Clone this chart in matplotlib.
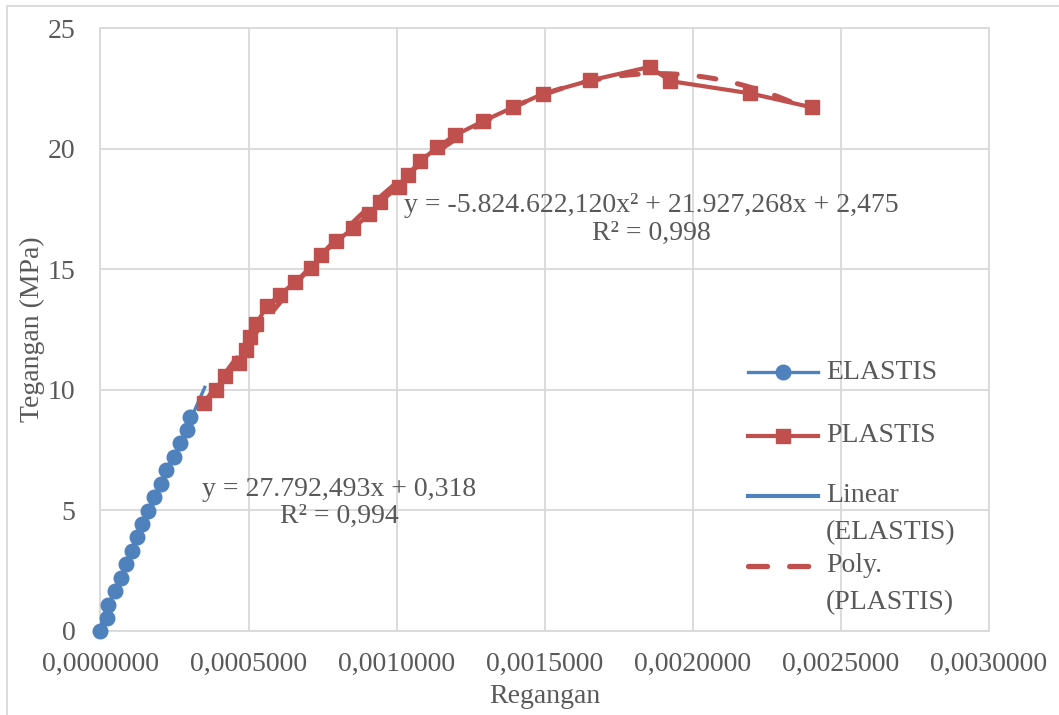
import matplotlib.pyplot as plt
import numpy as np
from matplotlib.lines import Line2D
from matplotlib.patches import Rectangle
from matplotlib.ticker import FuncFormatter, MultipleLocator

plt.rcParams["font.family"] = ["Liberation Serif", "DejaVu Serif"]
plt.rcParams["font.size"] = 20

# data
elastis_x = [0.0, 2.1e-5, 2.6e-5, 4.9e-5, 6.9e-5, 8.5e-5, 1.05e-4, 1.22e-4, 1.41e-4,
             1.61e-4, 1.81e-4, 2.04e-4, 2.22e-4, 2.47e-4, 2.70e-4, 2.93e-4, 3.02e-4]
elastis_y = [0.0, 0.54, 1.09, 1.66, 2.21, 2.77, 3.32, 3.88, 4.44,
             4.99, 5.54, 6.09, 6.67, 7.23, 7.78, 8.33, 8.88]

plastis_x = [3.50e-4, 3.90e-4, 4.21e-4, 4.68e-4, 4.92e-4, 5.05e-4, 5.25e-4, 5.62e-4,
             6.06e-4, 6.57e-4, 7.11e-4, 7.45e-4, 7.96e-4, 8.53e-4, 9.07e-4, 9.44e-4,
             1.008e-3, 1.039e-3, 1.079e-3, 1.137e-3, 1.198e-3, 1.292e-3, 1.393e-3,
             1.495e-3, 1.654e-3, 1.855e-3, 1.924e-3, 2.194e-3, 2.402e-3]
plastis_y = [9.47, 10.01, 10.58, 11.12, 11.67, 12.20, 12.71, 13.48,
             13.93, 14.48, 15.05, 15.59, 16.15, 16.70, 17.27, 17.80,
             18.42, 18.92, 19.47, 20.06, 20.56, 21.14, 21.71,
             22.28, 22.83, 23.39, 22.80, 22.29, 21.71]

# trendline coefficients shown on the chart
lin_a, lin_b = 27792.493, 0.318
poly_a, poly_b, poly_c = -5824622.120, 21927.268, 2.475

biru = "#4F81BD"
merah = "#C0504D"
abu = "#595959"
grid = "#D9D9D9"

fig = plt.figure(figsize=(10.59, 7.15), dpi=100)
ax = fig.add_axes([0.0949, 0.1175, 0.839, 0.8433])

# trendlines
xl = np.linspace(min(elastis_x), max(elastis_x) + 5e-5, 50)
ax.plot(xl, lin_a * xl + lin_b, color=biru, lw=2.4, zorder=4)
xp = np.linspace(min(plastis_x), max(plastis_x), 200)
garis_poly, = ax.plot(xp, poly_a * xp**2 + poly_b * xp + poly_c, color=merah, lw=3.6,
                      dash_capstyle="round", zorder=3)
garis_poly.set_dashes((3.4, 4.4))

ax.plot(elastis_x, elastis_y, color=biru, lw=2.4, marker="o", ms=10.5, zorder=5,
        clip_on=False)
ax.plot(plastis_x, plastis_y, color=merah, lw=3.0, marker="s", ms=10.5, zorder=5,
        clip_on=False)

ax.set_xlim(0, 0.003)
ax.set_ylim(0, 25)
ax.xaxis.set_major_locator(MultipleLocator(0.0005))
ax.yaxis.set_major_locator(MultipleLocator(5))
ax.xaxis.set_major_formatter(FuncFormatter(lambda v, p: f"{v:.7f}".replace(".", ",")))
ax.yaxis.set_major_formatter(FuncFormatter(lambda v, p: f"{v:.0f}"))
ax.tick_params(length=0, colors=abu, labelsize=20)
ax.tick_params(axis="y", pad=18)
ax.tick_params(axis="x", pad=15)
ax.grid(True, color=grid, lw=1.3)
ax.set_axisbelow(True)
for s in ax.spines.values():
    s.set_color(grid)
    s.set_linewidth(1.3)

ax.set_xlabel("Regangan", color=abu, fontsize=20)
ax.set_ylabel("Tegangan (MPa)", color=abu, fontsize=20)
ax.xaxis.set_label_coords(0.5, -0.088)
ax.yaxis.set_label_coords(-0.062, 0.5)

# trendline equations
ax.text(0.6196, 0.683, "y = -5.824.622,120x² + 21.927,268x + 2,475\nR² = 0,998",
        transform=ax.transAxes, ha="center", va="center", multialignment="center",
        color=abu, fontsize=20, linespacing=1.15)
ax.text(0.269, 0.2123, "y = 27.792,493x + 0,318\nR² = 0,994",
        transform=ax.transAxes, ha="center", va="center", multialignment="center",
        color=abu, fontsize=20, linespacing=1.1)

# legend (Excel style, drawn by hand)
x0, x1, xt = 0.7288, 0.8075, 0.8165
entri = [
    (0.4295, dict(color=biru, lw=2.4, marker="o", ms=10.5), ["ELASTIS"]),
    (0.3234, dict(color=merah, lw=3.0, marker="s", ms=10.5), ["PLASTIS"]),
    (0.2239, dict(color=biru, lw=3.0), ["Linear", "(ELASTIS)"]),
    (0.1078, dict(color=merah, lw=3.8, dash_capstyle="round", dashes=(3.6, 4.2)),
     ["Poly.", "(PLASTIS)"]),
]
for y, gaya, baris in entri:
    h = Line2D([x0, (x0 + x1) / 2, x1], [y, y, y], transform=ax.transAxes,
               markevery=[1], **gaya)
    ax.add_line(h)
    for i, t in enumerate(baris):
        ax.text(xt, y - i * 0.0614, t, transform=ax.transAxes, ha="left",
                va="center", color=abu, fontsize=20)

fig.add_artist(Rectangle((7 / 1059, -0.1), 1.2, 1.1 - 6.5 / 715, transform=fig.transFigure,
                         fill=False, edgecolor=grid, lw=1.3))

fig.savefig("out.png", dpi=100)
plt.close(fig)
